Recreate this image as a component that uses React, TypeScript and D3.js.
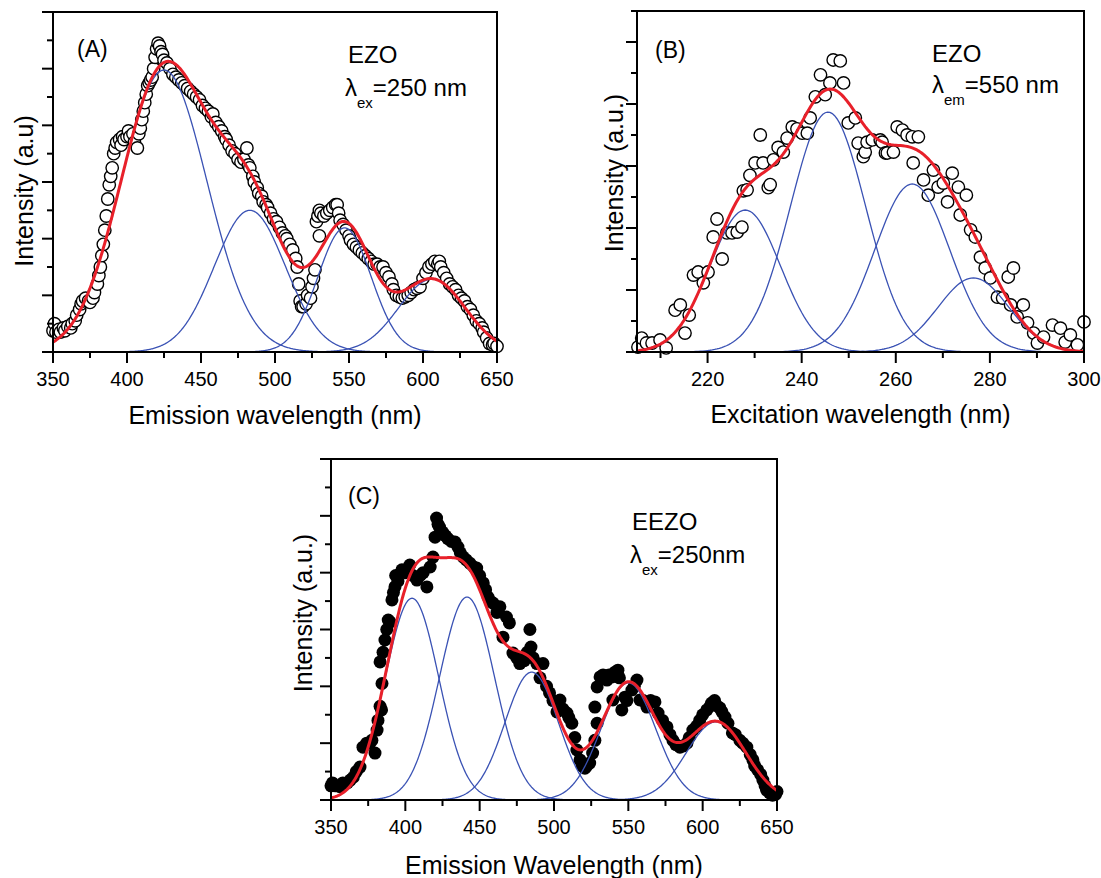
'use client';

import { useEffect, useRef } from 'react';
import * as d3 from 'd3';

type Pt = [number, number];

// (A) EZO emission spectrum, excitation 250 nm  [wavelength nm, intensity]
const emissionEZO: Pt[] = [
  [350, 0.75], [351, 1.0], [352, 0.7], [354, 0.8], [355, 0.7], [357, 0.85], [358, 0.75], [360, 0.9],
  [362, 0.85], [363, 1.0], [365, 1.1], [366, 1.3], [368, 1.5], [369, 1.7], [370, 1.8], [372, 1.9],
  [374, 1.8], [375, 1.75], [377, 1.9], [378, 2.1], [380, 2.4], [381, 2.7], [382, 3.0], [383, 3.4],
  [384, 3.8], [385, 4.3], [386, 4.8], [387, 5.4], [388, 5.9], [389, 6.2], [390, 6.5], [391, 7.0],
  [392, 7.2], [393, 7.4], [395, 7.5], [396, 7.3], [397, 7.6], [398, 7.5], [400, 7.6], [401, 7.8],
  [402, 7.6], [404, 7.7], [405, 7.4], [407, 7.2], [408, 7.7], [409, 7.9], [410, 8.2], [411, 8.5],
  [412, 8.8], [413, 9.1], [414, 9.4], [415, 9.5], [416, 9.6], [417, 9.7], [418, 10.0], [419, 10.4],
  [420, 10.7], [421, 10.9], [422, 10.8], [423, 10.6], [424, 10.5], [425, 10.3], [427, 10.2], [429, 10.0],
  [431, 9.8], [433, 9.7], [435, 9.6], [437, 9.5], [439, 9.4], [441, 9.3], [443, 9.2], [445, 9.1],
  [447, 9.0], [449, 8.9], [451, 8.7], [453, 8.6], [455, 8.5], [457, 8.3], [458, 8.4], [460, 8.1],
  [462, 7.95], [464, 7.8], [466, 7.6], [467, 7.5], [469, 7.3], [471, 7.1], [473, 7.0], [475, 6.8],
  [477, 6.7], [479, 6.8], [481, 7.2], [482, 6.6], [483, 6.5], [485, 6.2], [486, 6.0], [488, 5.8],
  [489, 5.6], [491, 5.5], [492, 5.3], [494, 5.2], [495, 5.1], [497, 4.9], [499, 4.7], [501, 4.6],
  [503, 4.4], [505, 4.2], [507, 4.1], [508, 4.0], [510, 3.8], [512, 3.6], [514, 3.3], [515, 3.0],
  [516, 2.4], [517, 1.8], [518, 1.6], [519, 1.6], [521, 1.7], [522, 2.0], [524, 1.9], [525, 2.3],
  [526, 2.6], [527, 2.9], [528, 4.6], [529, 4.8], [530, 5.0], [530, 4.1], [531, 4.9], [533, 4.8],
  [535, 4.9], [537, 5.0], [539, 5.1], [541, 5.2], [542, 5.2], [543, 4.9], [544, 4.65], [546, 4.5],
  [548, 4.3], [550, 4.1], [551, 3.95], [553, 3.8], [555, 3.7], [557, 3.6], [559, 3.5], [561, 3.4],
  [563, 3.3], [565, 3.2], [567, 3.1], [569, 3.1], [571, 3.0], [573, 3.0], [575, 2.8], [577, 2.65],
  [579, 2.4], [580, 2.2], [582, 2.0], [584, 1.95], [586, 1.9], [588, 1.95], [590, 2.0], [592, 2.1],
  [594, 2.2], [596, 2.25], [598, 2.3], [600, 2.6], [602, 2.8], [604, 3.0], [606, 3.1], [608, 3.2],
  [610, 3.1], [611, 3.2], [612, 3.0], [614, 2.8], [616, 2.6], [618, 2.4], [620, 2.3], [622, 2.2],
  [624, 2.0], [626, 1.9], [628, 1.8], [630, 1.6], [632, 1.5], [634, 1.3], [636, 1.1], [638, 1.0],
  [640, 0.85], [641, 0.7], [643, 0.5], [645, 0.3], [647, 0.25], [648, 0.3], [650, 0.2],
];
// fitted gaussian components for (A): centre, height, sigma
const peakCentersA = [425, 483, 547, 606];
const peakHeightsA = [9.95, 5.0, 4.38, 2.57];
const peakWidthsA = [29, 24, 18, 22.5];

// (B) EZO excitation spectrum, emission 550 nm
const excitationEZO: Pt[] = [
  [205.2, 0.16], [206, 0.45], [207, 0.29], [208.2, 0.29], [209.9, 0.39], [211.2, 0.13], [213.1, 1.35],
  [214.2, 1.52], [215.2, 0.61], [216.1, 1.19], [217, 2.48], [218, 2.58], [219.1, 2.23], [220.1, 2.58],
  [221.2, 3.71], [222, 4.29], [223.1, 3.0], [224.1, 3.84], [225.2, 3.84], [226.3, 3.87], [227.3, 4.03],
  [227.6, 5.2], [228.4, 5.23], [229, 5.7], [230.1, 6.1], [231.2, 7.0], [231.8, 6.1], [232.9, 5.3],
  [233.3, 5.4], [234, 6.2], [235, 6.6], [236.1, 6.45], [236.9, 6.9], [238, 7.26], [239, 7.2],
  [240.1, 7.06], [241.2, 7.06], [241.8, 7.55], [242.9, 8.23], [244, 8.94], [245, 8.3], [246, 8.68],
  [246.7, 9.42], [248.2, 9.39], [248.9, 8.68], [249.9, 7.39], [251.4, 7.55], [252, 6.74], [253.1, 6.3],
  [253.5, 6.45], [253.9, 6.77], [255, 6.84], [256.7, 6.84], [257.1, 6.77], [257.8, 6.42], [258.2, 6.42],
  [259.5, 6.45], [260.3, 7.26], [261.4, 7.16], [262.4, 7.0], [263.5, 6.94], [263.7, 6.1], [264.8, 6.94],
  [265.9, 5.55], [266.9, 5.06], [268, 5.87], [269, 5.32], [270.1, 5.45], [271, 4.84], [272, 5.77],
  [273.3, 5.32], [273.7, 4.42], [275, 5.06], [275.9, 3.94], [276.9, 3.71], [278, 3.06], [279, 2.71],
  [280.1, 2.39], [281.6, 1.77], [282.7, 1.74], [283.9, 2.42], [284.4, 1.52], [285, 2.71], [285.8, 1.13],
  [287.1, 1.52], [288, 0.94], [289.3, 0.61], [290.1, 0.29], [291.4, 0.48], [293.3, 0.87], [295, 0.77],
  [296, 0.32], [297.1, 0.55], [298.6, 0.23], [300, 0.97],
];
const peakCentersB = [228, 245.6, 263.5, 276.5];
const peakHeightsB = [4.58, 7.74, 5.42, 2.39];
const peakWidthsB = [7.5, 8, 8, 7.5];

// (C) EEZO emission spectrum, excitation 250 nm
const emissionEEZO: Pt[] = [
  [350, 0.5], [351, 0.6], [353, 0.5], [356, 0.47], [358, 0.6], [361, 0.6], [363, 0.7], [365, 0.8],
  [367, 1.0], [369.5, 1.16], [371.5, 1.86], [374, 2.0], [376, 2.0], [377.5, 2.1], [379.6, 1.65],
  [381, 2.46], [381.6, 2.8], [383, 3.3], [384, 3.17], [384.3, 4.1], [383, 4.86], [385, 5.2],
  [386.3, 5.63], [387.5, 6.0], [388.5, 6.33], [389.7, 6.26], [391, 7.04], [392, 7.3], [393, 7.5],
  [393.5, 7.9], [395, 7.7], [397.7, 8.1], [400, 8.0], [403, 8.27], [405, 7.9], [407.8, 7.74],
  [410, 7.9], [412, 8.0], [414.5, 7.5], [416.7, 8.2], [418.6, 8.55], [420, 9.25], [421, 9.92],
  [422, 9.7], [423, 9.6], [425, 9.43], [427, 9.3], [428.6, 9.2], [431, 9.1], [433.4, 9.08],
  [435.4, 8.9], [437, 8.7], [439, 8.55], [441, 8.45], [443.5, 8.33], [446, 8.2], [448, 8.16],
  [450, 7.9], [452.4, 7.64], [454, 7.4], [455.6, 7.14], [457, 7.0], [459, 6.93], [461.6, 6.6],
  [463.6, 6.8], [465.7, 5.73], [468, 6.44], [470, 6.23], [472.4, 5.17], [475, 5.0], [477, 4.8],
  [480, 4.9], [482, 5.2], [483.8, 6.0], [484.5, 5.38], [486, 5.0], [488.5, 4.8], [490.6, 4.3],
  [492.6, 4.8], [495, 4.0], [497, 3.77], [499.3, 3.5], [502, 3.1], [504, 3.52], [506, 3.2],
  [508.7, 3.06], [510, 2.9], [512, 2.7], [514, 2.2], [515.4, 1.76], [517.5, 1.41], [519, 1.2],
  [520.8, 1.12], [522, 1.2], [524, 1.3], [526, 1.65], [527.5, 2.1], [529, 2.7], [527.5, 3.27],
  [529, 3.98], [531, 4.33], [533, 4.4], [535.6, 4.22], [537, 4.4], [539, 4.33], [539.6, 3.52],
  [541, 4.5], [543, 4.57], [544, 4.3], [545.6, 3.17], [547.7, 3.62], [549, 3.5], [552.4, 3.87],
  [554, 4.0], [555.8, 4.22], [557.8, 3.52], [560, 3.5], [562.5, 3.27], [565, 3.5], [567.9, 3.45],
  [570, 3.06], [573, 2.8], [576, 2.57], [578, 2.3], [580, 2.1], [582, 1.95], [584.7, 1.86],
  [587, 1.9], [589.4, 2.0], [591, 2.2], [593.4, 2.46], [596, 2.6], [598, 2.8], [600, 3.0],
  [602.8, 3.17], [605, 3.3], [606, 3.41], [608, 3.5], [610, 3.3], [611.6, 3.24], [613, 3.1],
  [615, 2.92], [617, 2.7], [620, 2.36], [622, 2.3], [625, 2.1], [627, 2.0], [629.7, 1.86],
  [632, 1.6], [633.8, 1.41], [635, 1.2], [637, 1.06], [639, 0.9], [640.5, 0.7], [642, 0.5],
  [643, 0.35], [645, 0.25], [647, 0.17], [649, 0.2], [650, 0.3],
];
const peakCentersC = [404.5, 441.5, 485, 550, 609];
const peakHeightsC = [7.1, 7.14, 4.5, 4.12, 2.75];
const peakWidthsC = [18, 18.5, 18, 18.5, 20];

// ticks
const emissionMajor = [350, 400, 450, 500, 550, 600, 650];
const emissionMinor = [375, 425, 475, 525, 575, 625];
const excitationMajor = [220, 240, 260, 280, 300];
const excitationMinor = [210, 230, 250, 270, 290];
const intensityMajor12 = [0, 2, 4, 6, 8, 10, 12];
const intensityMinor12 = [1, 3, 5, 7, 9, 11];
const intensityMajor11 = [0, 2, 4, 6, 8, 10];
const intensityMinor11 = [1, 3, 5, 7, 9, 11];

const FONT = "'Liberation Sans', Arial, Helvetica, sans-serif";
const RED = '#e8202a';
const BLUE = '#3a52b4';

interface Panel {
  data: Pt[];
  centers: number[];
  heights: number[];
  widths: number[];
  xDomain: [number, number];
  yDomain: [number, number];
  box: { left: number; right: number; top: number; bottom: number };
  xMajor: number[];
  xMinor: number[];
  yMajor: number[];
  yMinor: number[];
  filled: boolean;
  xTitle: string;
  xTitleY: number;
  yTitle: string;
  yTitleX: number;
  yTitleY: number;
  tag: string;
  tagPos: [number, number];
  sample: string;
  samplePos: [number, number];
  lambdaSub: string;
  lambdaRest: string;
  lambdaPos: [number, number];
}

const panels: Panel[] = [
  {
    data: emissionEZO, centers: peakCentersA, heights: peakHeightsA, widths: peakWidthsA,
    xDomain: [350, 650], yDomain: [0, 12],
    box: { left: 53, right: 497, top: 12, bottom: 352 },
    xMajor: emissionMajor, xMinor: emissionMinor, yMajor: intensityMajor12, yMinor: intensityMinor12,
    filled: false,
    xTitle: 'Emission wavelength (nm)', xTitleY: 424,
    yTitle: 'Intensity (a.u)', yTitleX: 33, yTitleY: 191,
    tag: '(A)', tagPos: [77, 57],
    sample: 'EZO', samplePos: [348, 63],
    lambdaSub: 'ex', lambdaRest: '=250 nm', lambdaPos: [345, 96],
  },
  {
    data: excitationEZO, centers: peakCentersB, heights: peakHeightsB, widths: peakWidthsB,
    xDomain: [205, 300], yDomain: [0, 11],
    box: { left: 637, right: 1084, top: 11, bottom: 352 },
    xMajor: excitationMajor, xMinor: excitationMinor, yMajor: intensityMajor11, yMinor: intensityMinor11,
    filled: false,
    xTitle: 'Excitation wavelength (nm)', xTitleY: 423,
    yTitle: 'Intensity (a.u.)', yTitleX: 623, yTitleY: 173,
    tag: '(B)', tagPos: [655, 58],
    sample: 'EZO', samplePos: [932, 62],
    lambdaSub: 'em', lambdaRest: '=550 nm', lambdaPos: [932, 93],
  },
  {
    data: emissionEEZO, centers: peakCentersC, heights: peakHeightsC, widths: peakWidthsC,
    xDomain: [350, 650], yDomain: [0, 12],
    box: { left: 331, right: 777, top: 459, bottom: 800 },
    xMajor: emissionMajor, xMinor: emissionMinor, yMajor: intensityMajor12, yMinor: intensityMinor12,
    filled: true,
    xTitle: 'Emission Wavelength (nm)', xTitleY: 874,
    yTitle: 'Intensity (a.u.)', yTitleX: 312, yTitleY: 613,
    tag: '(C)', tagPos: [348, 504],
    sample: 'EEZO', samplePos: [632, 530],
    lambdaSub: 'ex', lambdaRest: '=250nm', lambdaPos: [630, 563],
  },
];

function gauss(x: number, c: number, h: number, w: number) {
  return h * Math.exp(-((x - c) ** 2) / (2 * w * w));
}

function drawPanel(root: d3.Selection<SVGGElement, unknown, null, undefined>, p: Panel) {
  const g = root.append('g');
  const { left, right, top, bottom } = p.box;

  const x = d3.scaleLinear().domain(p.xDomain).range([left, right]);
  const y = d3.scaleLinear().domain(p.yDomain).range([bottom, top]);

  // data points
  g.append('g')
    .selectAll('circle')
    .data(p.data)
    .join('circle')
    .attr('cx', d => x(d[0]))
    .attr('cy', d => y(d[1]))
    .attr('r', p.filled ? 6.5 : 6.2)
    .attr('fill', p.filled ? '#000' : '#fff')
    .attr('stroke', '#000')
    .attr('stroke-width', p.filled ? 0 : 1.4);

  // gaussian components + cumulative fit
  const grid = d3.range(p.xDomain[0], p.xDomain[1] + 0.01, 0.5);
  const line = d3.line<Pt>().x(d => x(d[0])).y(d => y(d[1]));

  p.centers.forEach((c, i) => {
    const pts: Pt[] = grid.map(v => [v, gauss(v, c, p.heights[i], p.widths[i])]);
    g.append('path')
      .datum(pts)
      .attr('fill', 'none')
      .attr('stroke', BLUE)
      .attr('stroke-width', 1.3)
      .attr('d', line);
  });

  const total: Pt[] = grid.map(v => [
    v,
    d3.sum(p.centers, (c, i) => gauss(v, c, p.heights[i], p.widths[i])),
  ]);
  g.append('path')
    .datum(total)
    .attr('fill', 'none')
    .attr('stroke', RED)
    .attr('stroke-width', 3)
    .attr('stroke-linejoin', 'round')
    .attr('d', line);

  // frame
  g.append('rect')
    .attr('x', left)
    .attr('y', top)
    .attr('width', right - left)
    .attr('height', bottom - top)
    .attr('fill', 'none')
    .attr('stroke', '#000')
    .attr('stroke-width', 2);

  // x ticks
  const xt = g.append('g').attr('stroke', '#000').attr('stroke-width', 2);
  p.xMajor.forEach(v => {
    xt.append('line').attr('x1', x(v)).attr('x2', x(v)).attr('y1', bottom).attr('y2', bottom + 11);
  });
  p.xMinor.forEach(v => {
    xt.append('line').attr('x1', x(v)).attr('x2', x(v)).attr('y1', bottom).attr('y2', bottom + 6);
  });
  p.yMajor.forEach(v => {
    xt.append('line').attr('x1', left - 11).attr('x2', left).attr('y1', y(v)).attr('y2', y(v));
  });
  p.yMinor.forEach(v => {
    xt.append('line').attr('x1', left - 6).attr('x2', left).attr('y1', y(v)).attr('y2', y(v));
  });

  g.append('g')
    .selectAll('text')
    .data(p.xMajor)
    .join('text')
    .attr('x', d => x(d))
    .attr('y', bottom + 34)
    .attr('text-anchor', 'middle')
    .attr('font-size', 20)
    .text(d => d);

  // axis titles
  g.append('text')
    .attr('x', (left + right) / 2)
    .attr('y', p.xTitleY)
    .attr('text-anchor', 'middle')
    .attr('font-size', 25)
    .text(p.xTitle);

  g.append('text')
    .attr('transform', `translate(${p.yTitleX},${p.yTitleY}) rotate(-90)`)
    .attr('text-anchor', 'middle')
    .attr('font-size', 25)
    .text(p.yTitle);

  // annotations
  g.append('text')
    .attr('x', p.tagPos[0])
    .attr('y', p.tagPos[1])
    .attr('font-size', 23)
    .text(p.tag);

  g.append('text')
    .attr('x', p.samplePos[0])
    .attr('y', p.samplePos[1])
    .attr('font-size', 24)
    .text(p.sample);

  const lam = g.append('text')
    .attr('x', p.lambdaPos[0])
    .attr('y', p.lambdaPos[1])
    .attr('font-size', 24);
  lam.append('tspan').text('λ');
  lam.append('tspan').attr('font-size', 15).attr('dy', 12).text(p.lambdaSub);
  lam.append('tspan').attr('dy', -12).text(p.lambdaRest);
}

export default function App() {
  const svgRef = useRef<SVGSVGElement>(null);

  useEffect(() => {
    if (!svgRef.current) return;
    const svg = d3.select(svgRef.current);
    svg.selectAll('*').remove();

    const root = svg.append('g')
      .attr('font-family', FONT)
      .attr('fill', '#000');

    panels.forEach(p => drawPanel(root, p));
  }, []);

  return (
    <svg
      ref={svgRef}
      width={1101}
      height={878}
      style={{ position: 'absolute', left: 0, top: 0, background: '#fff' }}
    />
  );
}
